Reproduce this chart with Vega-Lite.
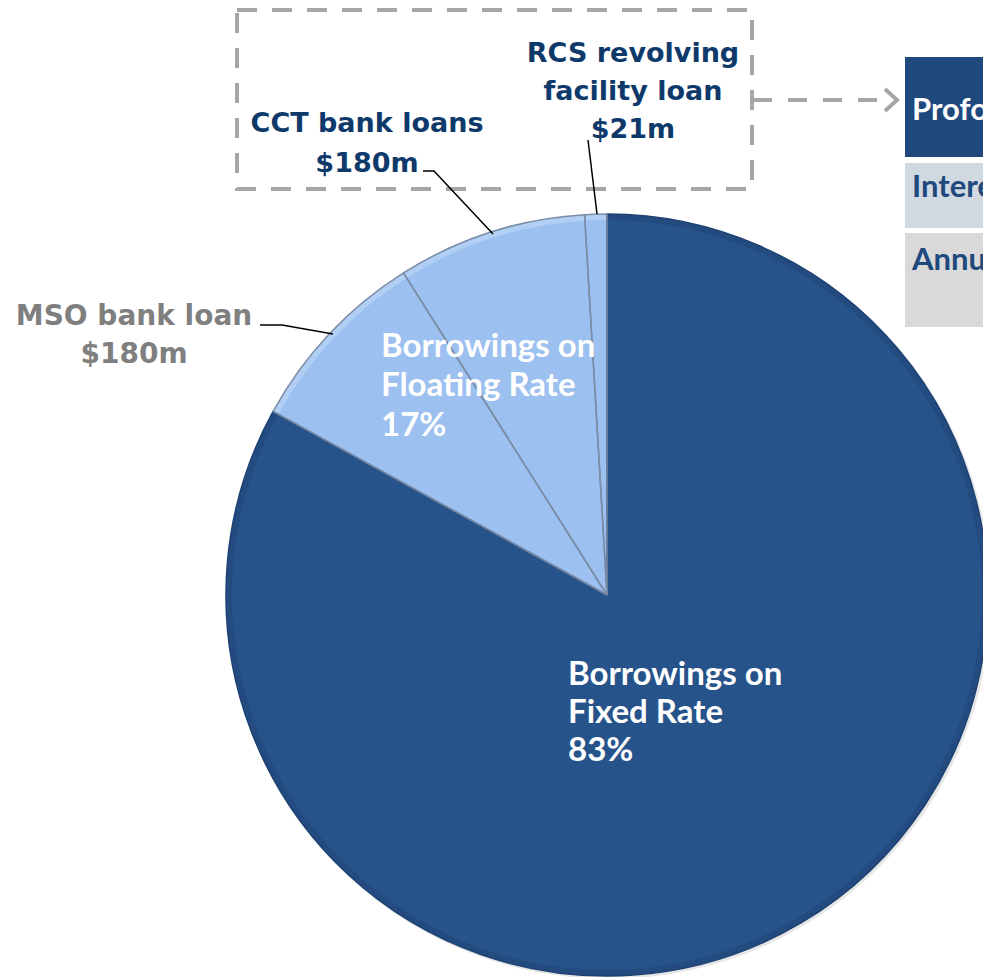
{
  "$schema": "https://vega.github.io/schema/vega-lite/v6.json",
  "width": 983,
  "height": 977,
  "autosize": "none",
  "padding": 0,
  "background": "#ffffff",
  "config": {"view": {"stroke": null}},
  "datasets": {
    "slices": [
      {"segment": "Borrowings on Fixed Rate", "group": "Fixed", "amount": 1860, "order": 1},
      {"segment": "MSO bank loan", "group": "Floating", "amount": 180, "order": 2},
      {"segment": "CCT bank loans", "group": "Floating", "amount": 180, "order": 3},
      {"segment": "RCS revolving facility loan", "group": "Floating", "amount": 21, "order": 4}
    ],
    "labels": [
      {"kind": "outer", "text": "RCS revolving", "x": 633, "y": 62},
      {"kind": "outer", "text": "facility loan", "x": 633, "y": 100},
      {"kind": "outer", "text": "$21m", "x": 633, "y": 138},
      {"kind": "outer", "text": "CCT bank loans", "x": 367, "y": 132},
      {"kind": "outer", "text": "$180m", "x": 367, "y": 172},
      {"kind": "grey", "text": "MSO bank loan", "x": 134, "y": 325},
      {"kind": "grey", "text": "$180m", "x": 134, "y": 363},
      {"kind": "inner", "text": "Borrowings on", "x": 381, "y": 357},
      {"kind": "inner", "text": "Floating Rate", "x": 381, "y": 396},
      {"kind": "inner", "text": "17%", "x": 381, "y": 436},
      {"kind": "inner", "text": "Borrowings on", "x": 568, "y": 685},
      {"kind": "inner", "text": "Fixed Rate", "x": 568, "y": 723},
      {"kind": "inner", "text": "83%", "x": 568, "y": 761},
      {"kind": "boxwhite", "text": "Proforma", "x": 912, "y": 120},
      {"kind": "boxblue", "text": "Interest", "x": 912, "y": 197},
      {"kind": "boxblue", "text": "Annual", "x": 912, "y": 270}
    ],
    "boxes": [
      {"name": "Proforma", "x": 905, "x2": 1010, "y": 57, "y2": 157},
      {"name": "Interest", "x": 905, "x2": 1010, "y": 163, "y2": 228},
      {"name": "Annual", "x": 905, "x2": 1010, "y": 233, "y2": 327}
    ],
    "frame": [
      {"x": 237, "x2": 752, "y": 10, "y2": 189}
    ],
    "leaders": [
      {"id": "CCT", "seq": 1, "x": 423, "y": 171},
      {"id": "CCT", "seq": 2, "x": 434, "y": 171},
      {"id": "CCT", "seq": 3, "x": 493, "y": 234},
      {"id": "RCS", "seq": 1, "x": 588, "y": 140},
      {"id": "RCS", "seq": 2, "x": 597, "y": 214},
      {"id": "MSO", "seq": 1, "x": 260, "y": 325},
      {"id": "MSO", "seq": 2, "x": 282, "y": 325},
      {"id": "MSO", "seq": 3, "x": 333, "y": 334}
    ],
    "arrow": [
      {"part": "shaft", "seq": 1, "x": 753, "y": 100},
      {"part": "shaft", "seq": 2, "x": 893, "y": 100},
      {"part": "head", "seq": 1, "x": 885, "y": 89},
      {"part": "head", "seq": 2, "x": 897, "y": 100},
      {"part": "head", "seq": 3, "x": 885, "y": 111}
    ]
  },
  "layer": [
    {
      "data": {"name": "slices"},
      "transform": [{"stack": "amount", "groupby": [], "sort": [{"field": "order", "order": "ascending"}], "as": ["t0", "t1"]}],
      "mark": {"type": "arc", "radius": 382, "fill": "#c8c8c8", "opacity": 0.45, "clip": true},
      "encoding": {
        "x": {"datum": 609, "type": "quantitative", "scale": {"domain": [0, 983], "nice": false, "zero": false}, "axis": null},
        "y": {"datum": 597, "type": "quantitative", "scale": {"domain": [0, 977], "nice": false, "zero": false, "reverse": true}, "axis": null},
        "theta": {"field": "t0", "type": "quantitative", "scale": {"domain": [0, 2241]}},
        "theta2": {"field": "t1"}
      }
    },
    {
      "data": {"name": "slices"},
      "transform": [{"stack": "amount", "groupby": [], "sort": [{"field": "order", "order": "ascending"}], "as": ["t0", "t1"]}],
      "mark": {"type": "arc", "radius": 381, "clip": true},
      "encoding": {
        "x": {"datum": 607, "type": "quantitative", "scale": {"domain": [0, 983], "nice": false, "zero": false}, "axis": null},
        "y": {"datum": 595, "type": "quantitative", "scale": {"domain": [0, 977], "nice": false, "zero": false, "reverse": true}, "axis": null},
        "theta": {"field": "t0", "type": "quantitative", "scale": {"domain": [0, 2241]}},
        "theta2": {"field": "t1"},
        "fill": {"condition": {"test": "datum.group === 'Fixed'", "value": "#27538b"}, "value": "#9cc0ef"}
      }
    },
    {
      "data": {"name": "slices"},
      "transform": [{"stack": "amount", "groupby": [], "sort": [{"field": "order", "order": "ascending"}], "as": ["t0", "t1"]}],
      "mark": {"type": "arc", "radius": 381, "radius2": 375, "clip": true},
      "encoding": {
        "x": {"datum": 607, "type": "quantitative", "scale": {"domain": [0, 983], "nice": false, "zero": false}, "axis": null},
        "y": {"datum": 595, "type": "quantitative", "scale": {"domain": [0, 977], "nice": false, "zero": false, "reverse": true}, "axis": null},
        "theta": {"field": "t0", "type": "quantitative", "scale": {"domain": [0, 2241]}},
        "theta2": {"field": "t1"},
        "fill": {"condition": {"test": "datum.group === 'Fixed'", "value": "#234b80"}, "value": "#b1cff5"}
      }
    },
    {
      "data": {"name": "slices"},
      "transform": [{"stack": "amount", "groupby": [], "sort": [{"field": "order", "order": "ascending"}], "as": ["t0", "t1"]}],
      "mark": {"type": "arc", "radius": 381, "fillOpacity": 0, "stroke": "#7b8ca6", "strokeWidth": 1.5, "clip": true},
      "encoding": {
        "x": {"datum": 607, "type": "quantitative", "scale": {"domain": [0, 983], "nice": false, "zero": false}, "axis": null},
        "y": {"datum": 595, "type": "quantitative", "scale": {"domain": [0, 977], "nice": false, "zero": false, "reverse": true}, "axis": null},
        "theta": {"field": "t0", "type": "quantitative", "scale": {"domain": [0, 2241]}},
        "theta2": {"field": "t1"},
        "stroke": {"condition": {"test": "datum.group === 'Fixed'", "value": "#1e4272"}, "value": "#7b8ca6"}
      }
    },
    {
      "data": {"name": "frame"},
      "mark": {"type": "rect", "filled": false, "stroke": "#a6a6a6", "strokeWidth": 4, "strokeDash": [20, 15], "clip": true},
      "encoding": {
        "x": {"field": "x", "type": "quantitative", "scale": {"domain": [0, 983], "nice": false, "zero": false}, "axis": null},
        "x2": {"field": "x2"},
        "y": {"field": "y", "type": "quantitative", "scale": {"domain": [0, 977], "nice": false, "zero": false, "reverse": true}, "axis": null},
        "y2": {"field": "y2"}
      }
    },
    {
      "data": {"name": "arrow"},
      "transform": [{"filter": "datum.part === 'shaft'"}],
      "mark": {"type": "line", "stroke": "#a6a6a6", "strokeWidth": 4, "strokeDash": [19, 16], "clip": true},
      "encoding": {
        "x": {"field": "x", "type": "quantitative", "scale": {"domain": [0, 983], "nice": false, "zero": false}, "axis": null},
        "y": {"field": "y", "type": "quantitative", "scale": {"domain": [0, 977], "nice": false, "zero": false, "reverse": true}, "axis": null},
        "order": {"field": "seq"}
      }
    },
    {
      "data": {"name": "arrow"},
      "transform": [{"filter": "datum.part === 'head'"}],
      "mark": {"type": "line", "stroke": "#a6a6a6", "strokeWidth": 4, "strokeJoin": "miter", "clip": true},
      "encoding": {
        "x": {"field": "x", "type": "quantitative", "scale": {"domain": [0, 983], "nice": false, "zero": false}, "axis": null},
        "y": {"field": "y", "type": "quantitative", "scale": {"domain": [0, 977], "nice": false, "zero": false, "reverse": true}, "axis": null},
        "order": {"field": "seq"}
      }
    },
    {
      "data": {"name": "leaders"},
      "mark": {"type": "line", "stroke": "#000000", "strokeWidth": 1.5, "clip": true},
      "encoding": {
        "x": {"field": "x", "type": "quantitative", "scale": {"domain": [0, 983], "nice": false, "zero": false}, "axis": null},
        "y": {"field": "y", "type": "quantitative", "scale": {"domain": [0, 977], "nice": false, "zero": false, "reverse": true}, "axis": null},
        "detail": {"field": "id"},
        "order": {"field": "seq"}
      }
    },
    {
      "data": {"name": "boxes"},
      "mark": {"type": "rect", "clip": true},
      "encoding": {
        "x": {"field": "x", "type": "quantitative", "scale": {"domain": [0, 983], "nice": false, "zero": false}, "axis": null},
        "x2": {"field": "x2"},
        "y": {"field": "y", "type": "quantitative", "scale": {"domain": [0, 977], "nice": false, "zero": false, "reverse": true}, "axis": null},
        "y2": {"field": "y2"},
        "fill": {"condition": [{"test": "datum.name === 'Proforma'", "value": "#1f497d"}, {"test": "datum.name === 'Interest'", "value": "#d0d8e0"}], "value": "#d9d9d9"}
      }
    },
    {
      "data": {"name": "labels"},
      "transform": [{"filter": "datum.kind === 'outer'"}],
      "mark": {"type": "text", "align": "center", "baseline": "alphabetic", "font": "DejaVu Sans", "fontWeight": "bold", "fontSize": 27, "fill": "#0e3a6b", "clip": true},
      "encoding": {
        "x": {"field": "x", "type": "quantitative", "scale": {"domain": [0, 983], "nice": false, "zero": false}, "axis": null},
        "y": {"field": "y", "type": "quantitative", "scale": {"domain": [0, 977], "nice": false, "zero": false, "reverse": true}, "axis": null},
        "text": {"field": "text"}
      }
    },
    {
      "data": {"name": "labels"},
      "transform": [{"filter": "datum.kind === 'grey'"}],
      "mark": {"type": "text", "align": "center", "baseline": "alphabetic", "font": "DejaVu Sans", "fontWeight": "bold", "fontSize": 28, "fill": "#7f7f7f", "clip": true},
      "encoding": {
        "x": {"field": "x", "type": "quantitative", "scale": {"domain": [0, 983], "nice": false, "zero": false}, "axis": null},
        "y": {"field": "y", "type": "quantitative", "scale": {"domain": [0, 977], "nice": false, "zero": false, "reverse": true}, "axis": null},
        "text": {"field": "text"}
      }
    },
    {
      "data": {"name": "labels"},
      "transform": [{"filter": "datum.kind === 'inner'"}],
      "mark": {"type": "text", "align": "left", "baseline": "alphabetic", "font": "Lato", "fontWeight": "bold", "fontSize": 33, "fill": "#ffffff", "clip": true},
      "encoding": {
        "x": {"field": "x", "type": "quantitative", "scale": {"domain": [0, 983], "nice": false, "zero": false}, "axis": null},
        "y": {"field": "y", "type": "quantitative", "scale": {"domain": [0, 977], "nice": false, "zero": false, "reverse": true}, "axis": null},
        "text": {"field": "text"}
      }
    },
    {
      "data": {"name": "labels"},
      "transform": [{"filter": "datum.kind === 'boxwhite' || datum.kind === 'boxblue'"}],
      "mark": {"type": "text", "align": "left", "baseline": "alphabetic", "font": "Lato", "fontWeight": "bold", "fontSize": 31, "clip": true},
      "encoding": {
        "x": {"field": "x", "type": "quantitative", "scale": {"domain": [0, 983], "nice": false, "zero": false}, "axis": null},
        "y": {"field": "y", "type": "quantitative", "scale": {"domain": [0, 977], "nice": false, "zero": false, "reverse": true}, "axis": null},
        "text": {"field": "text"},
        "fill": {"condition": {"test": "datum.kind === 'boxwhite'", "value": "#ffffff"}, "value": "#1f497d"}
      }
    }
  ]
}
